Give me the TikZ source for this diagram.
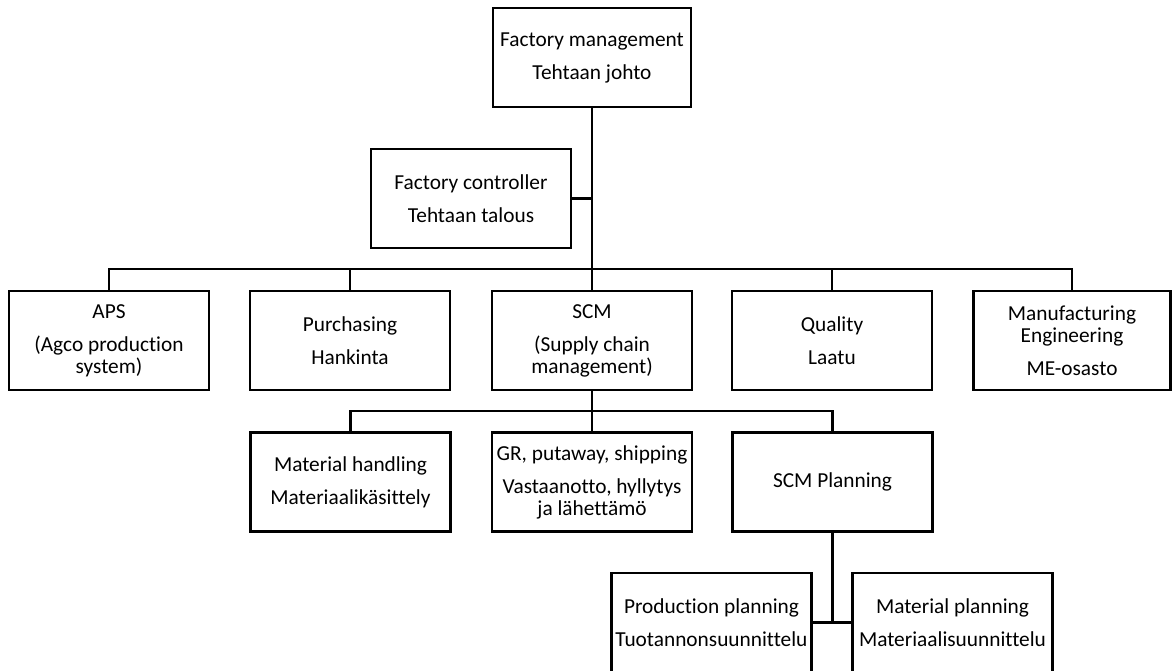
\documentclass[tikz,border=0pt]{standalone}
\usepackage{fontspec}
\setmainfont[Ligatures=NoCommon]{Carlito}
\begin{document}
\begin{tikzpicture}[x=0.75pt,y=-0.75pt,
  box/.style={draw, line width=1.9pt, minimum width=150pt, minimum height=74.5pt,
    inner sep=0pt, align=center, font=\fontsize{16}{16.5}\selectfont},
  conn/.style={line width=1.9pt}]
\useasboundingbox (0,0) rectangle (1176,670);
\clip (0,0) rectangle (1176,670);
% level 0 / controller
\node[box, minimum width=148.5pt] (top) at (592,57.5) {Factory management\\[8.25pt]Tehtaan johto};
\node[box] (ctrl) at (471,198.5) {Factory controller\\[8.25pt]Tehtaan talous};
% level 1
\node[box] (aps) at (109,340.5) {APS\\[8.25pt](Agco production\\system)};
\node[box] (pur) at (350,340.5) {Purchasing\\[8.25pt]Hankinta};
\node[box] (scm) at (592,340.5) {SCM\\[8.25pt](Supply chain\\management)};
\node[box] (qua) at (832,340.5) {Quality\\[8.25pt]Laatu};
\node[box, minimum width=148pt] (me) at (1072,340.5) {Manufacturing\\Engineering\\[8.25pt]ME-osasto};
% level 2
\node[box] (mh) at (350.5,482) {Material handling\\[8.25pt]Materiaalik\"asittely};
\node[box] (gr) at (592,482) {GR, putaway, shipping\\[8.25pt]Vastaanotto, hyllytys\\ja l\"ahett\"am\"o};
\node[box] (scmp) at (832.5,482) {SCM Planning};
% level 3
\node[box] (pp) at (711.5,622.5) {Production planning\\[8.25pt]Tuotannonsuunnittelu};
\node[box] (mp) at (952.5,622.5) {Material planning\\[8.25pt]Materiaalisuunnittelu};
% connectors
\coordinate (b1) at (592,269);
\coordinate (b2) at (592,411);
\draw[conn] (top.south) -- (b1);
\draw[conn] (ctrl.east) -- (ctrl.east -| b1);
\draw[conn] (aps.north) |- (me.north |- b1) -- (me.north);
\draw[conn] (pur.north) -- (pur.north |- b1);
\draw[conn] (scm.north) -- (b1);
\draw[conn] (qua.north) -- (qua.north |- b1);
\draw[conn] (scm.south) -- (b2);
\draw[conn] (mh.north) |- (scmp.north |- b2) -- (scmp.north);
\draw[conn] (gr.north) -- (b2);
\draw[conn] (pp.east) -- (mp.west);
\draw[conn] (scmp.south) -- (scmp.south |- pp.east);
\end{tikzpicture}
\end{document}
